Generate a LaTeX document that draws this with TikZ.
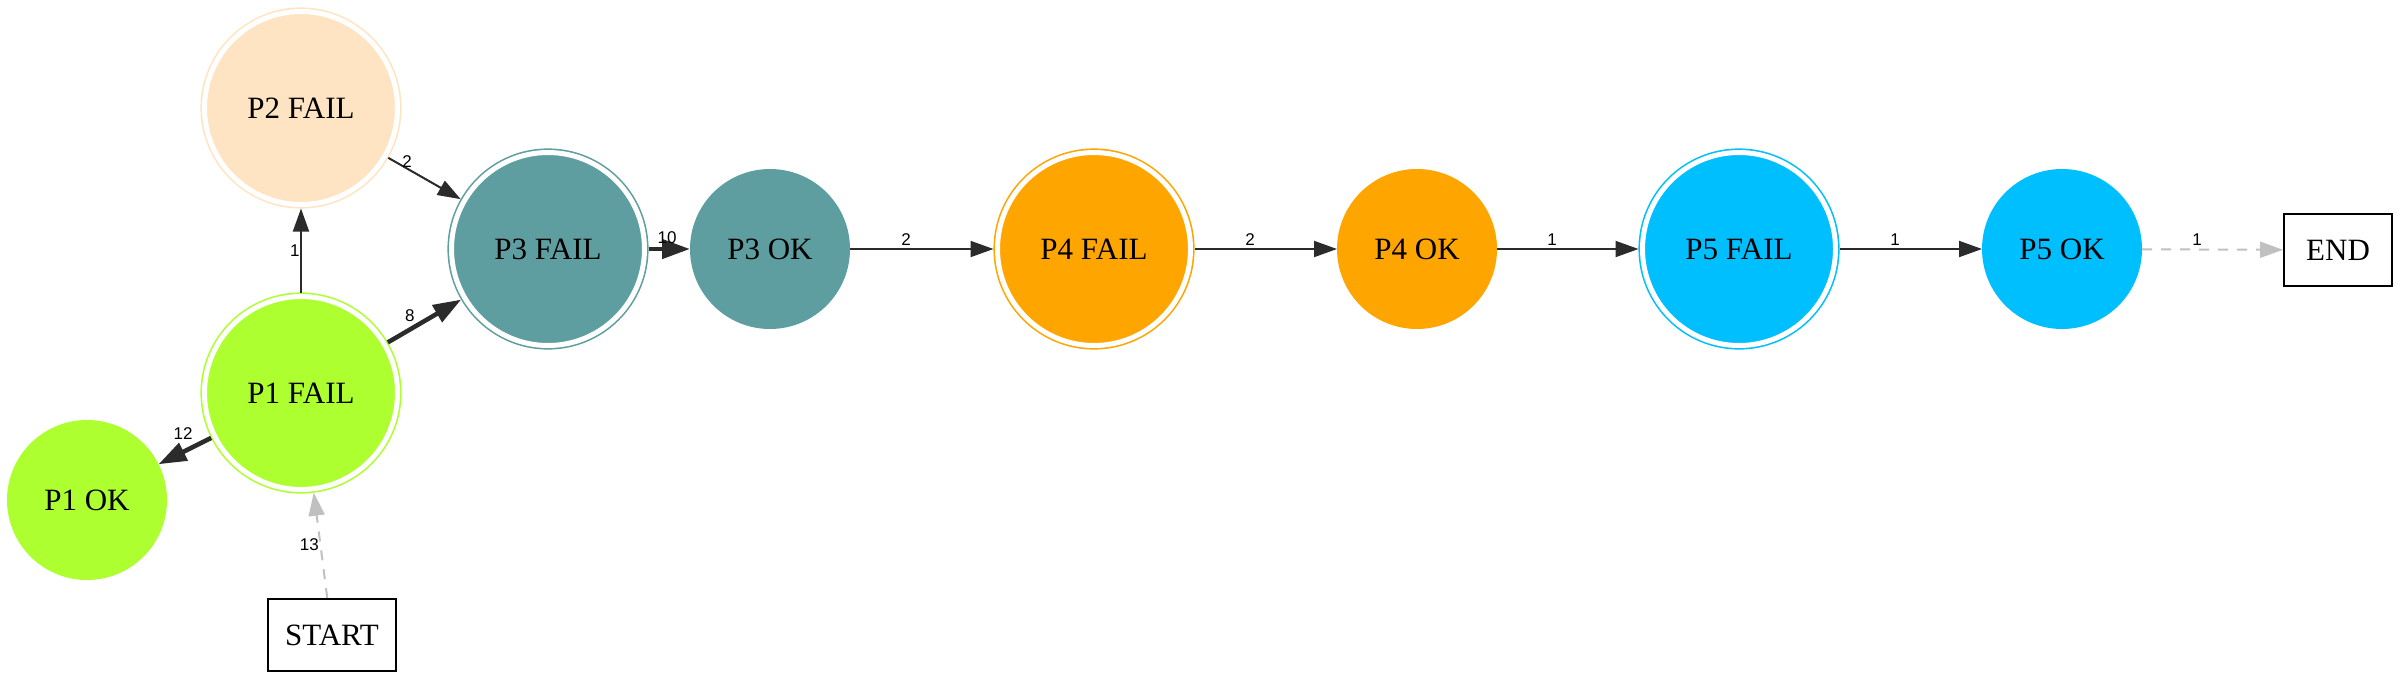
\documentclass[tikz,border=0pt]{standalone}
\usepackage{fontspec}
\setmainfont{Liberation Serif}
\newfontfamily\lblfont{Liberation Sans}
\usetikzlibrary{arrows.meta}

\definecolor{edgegray}{RGB}{43,43,43}
\definecolor{dashgray}{RGB}{192,192,192}
\definecolor{bisque}{RGB}{255,228,196}
\definecolor{cadet}{RGB}{95,158,160}
\definecolor{greenyel}{RGB}{173,255,47}
\definecolor{orng}{RGB}{255,165,0}
\definecolor{skyblu}{RGB}{0,191,255}

\begin{document}
\begin{tikzpicture}[x=1pt,y=-1pt,
  failnode/.style={circle,fill=#1,draw=#1,line width=1.6pt,double=white,double distance=5pt,
    minimum size=193pt,inner sep=0pt,outer sep=4pt,font=\fontsize{31}{31}\selectfont},
  oknode/.style={circle,fill=#1,minimum size=160pt,inner sep=0pt,outer sep=0pt,font=\fontsize{31}{31}\selectfont},
  endbox/.style={rectangle,draw=black,line width=2pt,minimum height=72pt,inner sep=0pt,font=\fontsize{31}{31}\selectfont},
  hop/.style={draw=edgegray,line width=2pt,-{Triangle[length=23pt,width=16pt]}},
  hopthick/.style={draw=edgegray,line width=4.5pt,-{Triangle[length=28pt,width=19pt]}},
  dashhop/.style={draw=dashgray,line width=2pt,dash pattern=on 10pt off 9pt,-{Triangle[length=23pt,width=16pt]}},
  lbl/.style={font=\lblfont\fontsize{17}{17}\selectfont,inner sep=1pt}]
\useasboundingbox (0,0) rectangle (2400,678);

\node[failnode=bisque] at (301,108) (P2f) {P2 FAIL};
\node[failnode=cadet] at (548,249) (P3f) {P3 FAIL};
\node[failnode=greenyel] at (301,393) (P1f) {P1 FAIL};
\node[oknode=greenyel] at (87,500) (P1ok) {P1 OK};
\node[endbox,minimum width=128pt] at (332,635) (START) {START};
\node[oknode=cadet] at (770,249) (P3ok) {P3 OK};
\node[failnode=orng] at (1094,249) (P4f) {P4 FAIL};
\node[oknode=orng] at (1417,249) (P4ok) {P4 OK};
\node[failnode=skyblu] at (1739,249) (P5f) {P5 FAIL};
\node[oknode=skyblu] at (2062,249) (P5ok) {P5 OK};
\node[endbox,minimum width=108pt] at (2338,250) (END) {END};

\draw[hop] (P1f) -- (P2f) node[lbl,midway,left,inner sep=0.5pt] {1};
\draw[hop] (P2f) -- (P3f) node[lbl,pos=0.26,above,inner sep=0pt] {2};
\draw[hopthick] (P1f) -- (P3f) node[lbl,pos=0.37,above=2pt,xshift=-5pt] {8};
\draw[hopthick] (P1f) -- (P1ok) node[lbl,pos=0.4,above=6pt,xshift=-7pt] {12};
\draw[dashhop] (START) -- (P1f) node[lbl,pos=0.51,left,inner sep=0.5pt] {13};
\draw[hopthick] (P3f) -- (P3ok) node[lbl,pos=0.45,above=2pt] {10};
\draw[hop] (P3ok) -- (P4f) node[lbl,pos=0.39,above=2pt] {2};
\draw[hop] (P4f) -- (P4ok) node[lbl,pos=0.39,above=2pt] {2};
\draw[hop] (P4ok) -- (P5f) node[lbl,pos=0.39,above=2pt] {1};
\draw[hop] (P5f) -- (P5ok) node[lbl,pos=0.39,above=2pt] {1};
\draw[dashhop] (P5ok) -- (END) node[lbl,pos=0.39,above=2pt] {1};
\end{tikzpicture}
\end{document}
